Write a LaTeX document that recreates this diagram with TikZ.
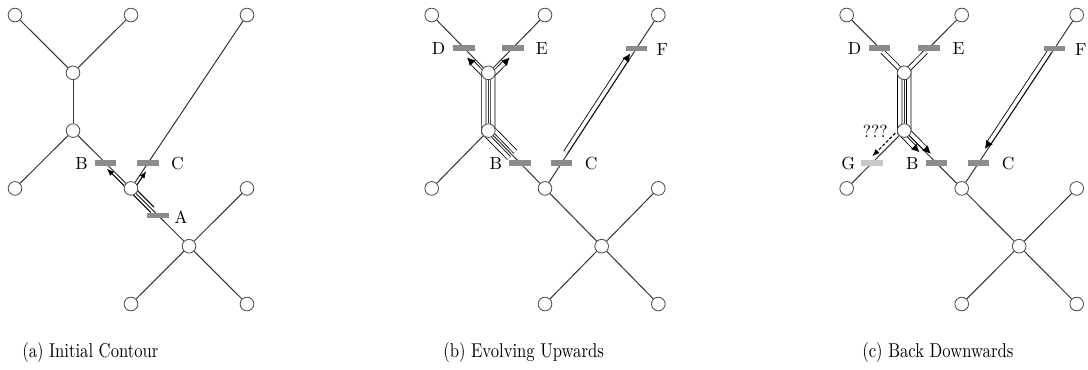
\documentclass[tikz,border=0pt]{standalone}
\usetikzlibrary{calc,arrows.meta}
\pgfdeclarelayer{under}
\pgfsetlayers{under,main}

% point at fraction #4 along #2->#3, shifted #5 sideways (angle #6 from the direction)
\newcommand\offpt[6]{\coordinate (#1) at ($(#2.center)!#4!(#3.center)!#5!#6:(#3.center)$);}
% corner of two offset lines: #2->#3 shifted (#5,#6) and #3->#4 shifted (#7,#8)
\newcommand\bend[8]{%
  \offpt{#1p}{#2}{#3}{0}{#5}{#6}%
  \offpt{#1q}{#2}{#3}{0.5}{#5}{#6}%
  \offpt{#1r}{#3}{#4}{0}{#7}{#8}%
  \offpt{#1s}{#3}{#4}{0.5}{#7}{#8}%
  \coordinate (#1) at (intersection of #1p--#1q and #1r--#1s);}
% the tree: suffix, left column, column step
\newcommand\skeleton[3]{%
  \foreach \nm/\cc/\rr in {l1/0/0,l2/2/0,l3/4/0,y/1/1,n/1/2,l4/0/3,m/2/3,l5/4/3,x/3/4,l6/2/5,l7/4/5}
    {\node[vtx] (\nm#1) at ({#2+\cc*#3},{15+\rr*57.8}) {};}
  \begin{pgfonlayer}{under}
    \foreach \pp/\qq in {l1/y,l2/y,y/n,n/l4,n/m,m/l3,m/x,x/l5,x/l6,x/l7}
      {\draw[arc] (\pp#1) -- (\qq#1);}
  \end{pgfonlayer}}
\newcommand\captext[1]{\scalebox{1}[1.2]{#1}}

\begin{document}
\begin{tikzpicture}[x=0.6pt, y=-0.6pt,
  vtx/.style={circle, draw=black!70, fill=white, line width=0.5pt, minimum size=8.2pt, inner sep=0pt},
  arc/.style={black!80, line width=0.6pt},
  bar/.style={rectangle, fill=black!45, minimum width=13pt, minimum height=3.2pt, inner sep=0pt},
  ghostbar/.style={bar, fill=black!22},
  lbl/.style={inner sep=0pt, font=\fontsize{10.5}{12}\selectfont},
  front/.style={draw=black, line width=0.65pt, -{Latex[length=4.4pt,width=3.4pt]}},
  probe/.style={front, dash pattern=on 1.8pt off 1.2pt},
  tube/.style={draw=black, line width=0.5pt, double=white, double distance=2.1pt, -{Latex[length=4.8pt,width=4.8pt]}},
  subcap/.style={anchor=base west, inner sep=0pt, font=\fontsize{10}{12}\selectfont}]
\useasboundingbox (0,0) rectangle (1088,369);

% ---------------- (a) initial contour ----------------
\skeleton{a}{15}{58}
\node[bar] (Ba) at ($(na.center)!0.56!(ma.center)$) {};
\node[bar] (Ca) at ($(ma.center)!0.147!(l3a.center)$) {};
\node[bar] (Aa) at ($(ma.center)!0.47!(xa.center)$) {};
\node[lbl, anchor=east] (tBa) at ([xshift=-3.7pt,yshift=-0.5pt]Ba.west) {B};
\node[lbl, anchor=west] (tCa) at ([xshift=7pt,yshift=-0.5pt]Ca.east) {C};
\node[lbl, anchor=west] (tAa) at ([xshift=2.8pt,yshift=-1.2pt]Aa.east) {A};
\offpt{a1}{ma}{xa}{0.38}{1.8pt}{-90}
\offpt{a2}{na}{ma}{0.62}{1.8pt}{-90}
\offpt{a3}{ma}{xa}{0.36}{1.8pt}{90}
\bend{a4}{xa}{ma}{l3a}{1.8pt}{-90}{1.8pt}{-90}
\offpt{a5}{ma}{l3a}{0.11}{1.8pt}{-90}
\begin{pgfonlayer}{under}
  \draw[front] (a1) -- (a2);
  \draw[front] (a3) -- (a4) -- (a5);
\end{pgfonlayer}
\node[subcap] (capa) at (22,357) {\captext{(a) Initial Contour}};

% ---------------- (b) evolving upwards ----------------
\skeleton{b}{431.7}{56.65}
\node[bar] (Db) at ($(l1b.center)!0.57!(yb.center)$) {};
\node[bar] (Eb) at ($(l2b.center)!0.57!(yb.center)$) {};
\node[bar] (Bb) at ($(nb.center)!0.56!(mb.center)$) {};
\node[bar] (Cb) at ($(mb.center)!0.147!(l3b.center)$) {};
\node[bar] (Fb) at ($(mb.center)!0.808!(l3b.center)$) {};
\node[lbl, anchor=east] (tDb) at ([xshift=-4.4pt,yshift=-0.5pt]Db.west) {D};
\node[lbl, anchor=west] (tEb) at ([xshift=7pt,yshift=-0.5pt]Eb.east) {E};
\node[lbl, anchor=east] (tBb) at ([xshift=-4pt,yshift=-0.5pt]Bb.west) {B};
\node[lbl, anchor=west] (tCb) at ([xshift=7pt,yshift=-0.5pt]Cb.east) {C};
\node[lbl, anchor=west] (tFb) at ([xshift=5.2pt,yshift=-0.5pt]Fb.east) {F};
\offpt{b1}{nb}{mb}{0.42}{2.7pt}{-90}
\bend{b2}{mb}{nb}{yb}{2.7pt}{90}{2.7pt}{90}
\bend{b3}{nb}{yb}{l1b}{2.7pt}{90}{2.7pt}{90}
\offpt{b4}{yb}{l1b}{0.32}{2.7pt}{90}
\offpt{b5}{nb}{mb}{0.42}{2.7pt}{90}
\bend{b6}{mb}{nb}{yb}{2.7pt}{-90}{2.7pt}{-90}
\bend{b7}{nb}{yb}{l2b}{2.7pt}{-90}{2.7pt}{-90}
\offpt{b8}{yb}{l2b}{0.32}{2.7pt}{-90}
\offpt{b9}{mb}{l3b}{0.2}{1.5pt}{90}
\offpt{b10}{mb}{l3b}{0.77}{1.5pt}{90}
\begin{pgfonlayer}{under}
  \draw[tube] (b1) -- (b2) -- (b3) -- (b4);
  \draw[tube] (b5) -- (b6) -- (b7) -- (b8);
  \draw[tube] (b9) -- (b10);
\end{pgfonlayer}
\node[subcap] (capb) at (443,357) {\captext{(b) Evolving Upwards}};

% ---------------- (c) back downwards ----------------
\skeleton{c}{846.7}{57.5}
\node[bar] (Dc) at ($(l1c.center)!0.57!(yc.center)$) {};
\node[bar] (Ec) at ($(l2c.center)!0.57!(yc.center)$) {};
\node[ghostbar] (Gc) at ($(nc.center)!0.56!(l4c.center)$) {};
\node[bar] (Bc) at ($(nc.center)!0.56!(mc.center)$) {};
\node[bar] (Cc) at ($(mc.center)!0.147!(l3c.center)$) {};
\node[bar] (Fc) at ($(mc.center)!0.808!(l3c.center)$) {};
\node[lbl, anchor=east] (tDc) at ([xshift=-4pt,yshift=-0.5pt]Dc.west) {D};
\node[lbl, anchor=west] (tEc) at ([xshift=7.3pt,yshift=-0.5pt]Ec.east) {E};
\node[lbl, anchor=east] (tGc) at ([xshift=-3.2pt,yshift=-0.5pt]Gc.west) {G};
\node[lbl, anchor=east] (tBc) at ([xshift=-3.8pt,yshift=-0.5pt]Bc.west) {B};
\node[lbl, anchor=west] (tCc) at ([xshift=7pt,yshift=-0.5pt]Cc.east) {C};
\node[lbl, anchor=west] (tFc) at ([xshift=5.4pt,yshift=-0.5pt]Fc.east) {F};
\offpt{c1}{l1c}{yc}{0.63}{0.3pt}{-90}
\bend{c2}{l1c}{yc}{nc}{0.3pt}{-90}{2.7pt}{-90}
\bend{c3}{yc}{nc}{mc}{2.7pt}{-90}{2.7pt}{-90}
\offpt{c4}{nc}{mc}{0.32}{2.7pt}{-90}
\offpt{c5}{l2c}{yc}{0.63}{0.3pt}{90}
\bend{c6}{l2c}{yc}{nc}{0.3pt}{90}{2.7pt}{90}
\bend{c7}{yc}{nc}{mc}{2.7pt}{90}{1.5pt}{90}
\offpt{c8}{nc}{mc}{0.43}{1.5pt}{90}
\offpt{c9}{nc}{l4c}{0.1}{2.7pt}{-90}
\offpt{c10}{nc}{l4c}{0.5}{2.7pt}{-90}
\offpt{c11}{mc}{l3c}{0.78}{1.5pt}{90}
\offpt{c12}{mc}{l3c}{0.22}{1.5pt}{90}
\begin{pgfonlayer}{under}
  \draw[tube] (c1) -- (c2) -- (c3) -- (c4);
  \draw[tube] (c5) -- (c6) -- (c7) -- (c8);
  \draw[probe] (c9) -- (c10);
  \draw[tube] (c11) -- (c12);
\end{pgfonlayer}
\node[lbl] (qc) at (875.3,131.5) {???};
\node[subcap] (capc) at (862,357) {\captext{(c) Back Downwards}};
\end{tikzpicture}
\end{document}
